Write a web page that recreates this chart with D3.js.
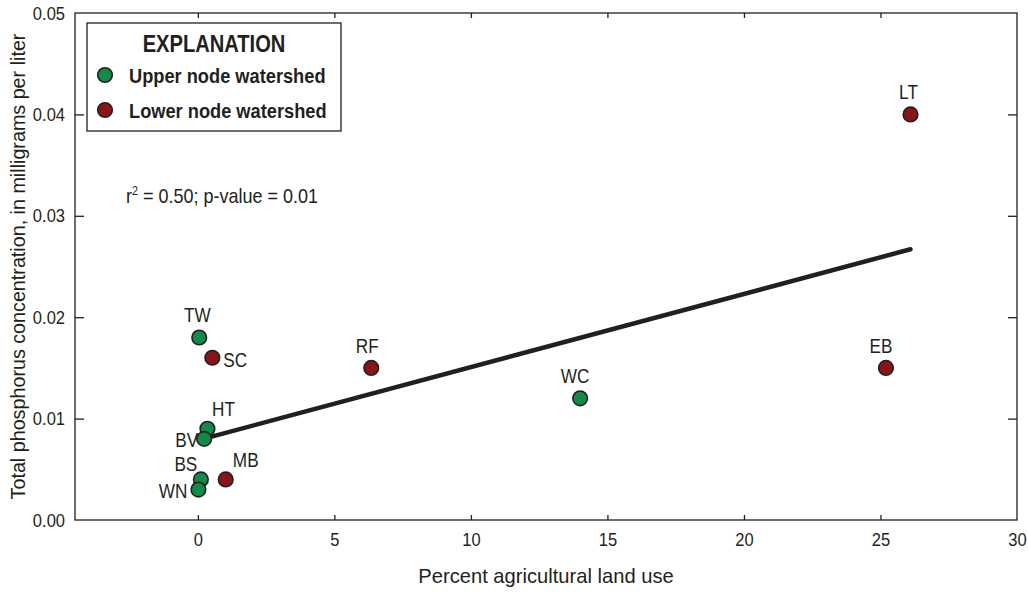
<!DOCTYPE html>
<html>
<head>
<meta charset="utf-8">
<script src="https://cdn.jsdelivr.net/npm/d3@7"></script>
<style>
  html, body { margin: 0; padding: 0; background: #fff; }
  svg { display: block; }
  text { font-family: "Liberation Sans", Arial, sans-serif; }
</style>
</head>
<body>
<svg id="chart" width="1028" height="592"></svg>
<script>
// Watershed sites: percent agricultural land use vs total phosphorus
const siteNames = ["LT", "EB", "WC", "RF", "TW", "SC", "HT", "BV", "BS", "WN", "MB"];
const agPercent = [26.1, 25.2, 14.0, 6.35, 0.05, 0.53, 0.35, 0.23, 0.11, 0.02, 1.02];
const phosphorus = [0.040, 0.015, 0.012, 0.015, 0.018, 0.016, 0.009, 0.008, 0.004, 0.003, 0.004];
const nodeType = ["lower", "lower", "upper", "lower", "upper", "lower", "upper", "upper", "upper", "upper", "lower"];

// Fitted trend line endpoints
const trendX = [0.2, 26.1];
const trendY = [0.0080, 0.0267];

const xTicks = [0, 5, 10, 15, 20, 25, 30];
const yTicks = [0, 0.01, 0.02, 0.03, 0.04, 0.05];
const legendLabels = ["Upper node watershed", "Lower node watershed"];
const legendKeys = ["upper", "lower"];

// Label placement around each marker: [dx, dy, anchor]
const labelPlace = {
  LT: [-2, -15, "middle"], EB: [-5, -15, "middle"], WC: [-5, -15, "middle"],
  RF: [-4, -15, "middle"], TW: [-2, -15, "middle"], SC: [11, 9, "start"],
  HT: [16, -13, "middle"], BV: [-6, 8, "end"], BS: [-15, -8, "middle"],
  WN: [-11, 8, "end"], MB: [20, -12, "middle"]
};

const colors = { upper: "#13894a", lower: "#8a1519" };
const ink = "#231f20";

// Squeeze text horizontally around its own anchor point
function condense(sel, sx) {
  sel.each(function () {
    const t = d3.select(this);
    const xv = +(t.attr("x") || 0);
    t.attr("x", xv / sx).attr("transform", `scale(${sx},1)`);
  });
}
function placeText(parent, px, py, sx) {
  return parent.append("text").attr("transform", `translate(${px},${py}) scale(${sx},1)`);
}

const svg = d3.select("#chart");
const margin = { left: 75, right: 11, top: 13, bottom: 72 };
const W = 1028, H = 592;

const x = d3.scaleLinear().domain([-4.5, 30]).range([margin.left, W - margin.right]);
const y = d3.scaleLinear().domain([0, 0.05]).range([H - margin.bottom, margin.top]);

// Frame
svg.append("rect")
  .attr("x", x.range()[0]).attr("y", y.range()[1])
  .attr("width", x.range()[1] - x.range()[0])
  .attr("height", y.range()[0] - y.range()[1])
  .attr("fill", "none").attr("stroke", ink).attr("stroke-width", 1.3);

// Bottom axis with labels, ticks pointing inward
const xAxis = svg.append("g")
  .attr("transform", `translate(0,${y(0)})`)
  .call(d3.axisBottom(x).tickValues(xTicks).tickSize(-5).tickPadding(13).tickFormat(d3.format("d")));
xAxis.select(".domain").remove();
xAxis.selectAll("line").attr("stroke", ink).attr("stroke-width", 1.3);
xAxis.selectAll("text").attr("font-family", null).attr("font-size", 19).attr("fill", ink);
condense(xAxis.selectAll("text"), 0.87);
xAxis.selectAll(".tick").filter(d => d === 30).select("line").remove();

// Top axis ticks
const xTop = svg.append("g")
  .attr("transform", `translate(0,${y(0.05)})`)
  .call(d3.axisTop(x).tickValues(xTicks.filter(d => d < 30)).tickSize(-5).tickFormat(""));
xTop.select(".domain").remove();
xTop.selectAll("line").attr("stroke", ink).attr("stroke-width", 1.3);

// Left axis
const yAxis = svg.append("g")
  .attr("transform", `translate(${x(-4.5)},0)`)
  .call(d3.axisLeft(y).tickValues(yTicks).tickSize(-9).tickPadding(10).tickFormat(d3.format(".2f")));
yAxis.select(".domain").remove();
yAxis.selectAll("line").attr("stroke", ink).attr("stroke-width", 1.3);
yAxis.selectAll(".tick").filter(d => d === 0 || d === 0.05).select("line").remove();
yAxis.selectAll("text").attr("font-family", null).attr("font-size", 19).attr("fill", ink);
condense(yAxis.selectAll("text"), 0.87);

// Right axis ticks
const yRight = svg.append("g")
  .attr("transform", `translate(${x(30)},0)`)
  .call(d3.axisRight(y).tickValues(yTicks.filter(d => d > 0 && d < 0.05)).tickSize(-9).tickFormat(""));
yRight.select(".domain").remove();
yRight.selectAll("line").attr("stroke", ink).attr("stroke-width", 1.3);

// Axis titles
placeText(svg, (x.range()[0] + x.range()[1]) / 2, 583, 0.96)
  .attr("text-anchor", "middle").attr("font-size", 21).attr("fill", ink)
  .text("Percent agricultural land use");

svg.append("text")
  .attr("transform", `translate(25,${(y.range()[0] + y.range()[1]) / 2}) rotate(-90) scale(0.94,1)`)
  .attr("text-anchor", "middle").attr("font-size", 21).attr("fill", ink)
  .text("Total phosphorus concentration, in milligrams per liter");

// Trend line
svg.append("line")
  .attr("x1", x(trendX[0])).attr("y1", y(trendY[0]))
  .attr("x2", x(trendX[1])).attr("y2", y(trendY[1]))
  .attr("stroke", ink).attr("stroke-width", 4.5).attr("stroke-linecap", "round");

// Statistics note
const stat = placeText(svg, 126, 203, 0.9).attr("font-size", 20).attr("fill", ink);
stat.append("tspan").text("r");
stat.append("tspan").attr("font-size", 12).attr("dy", -8).text("2");
stat.append("tspan").attr("dy", 8).text(" = 0.50; p-value = 0.01");

// Markers
const sites = siteNames.map((n, i) => ({ name: n, x: agPercent[i], y: phosphorus[i], type: nodeType[i] }));

svg.append("g").selectAll("circle")
  .data(sites)
  .join("circle")
  .attr("cx", d => x(d.x)).attr("cy", d => y(d.y))
  .attr("r", 7.3)
  .attr("fill", d => colors[d.type])
  .attr("stroke", ink).attr("stroke-width", 1.6);

svg.append("g").selectAll("text")
  .data(sites)
  .join("text")
  .attr("transform", d => `translate(${x(d.x) + labelPlace[d.name][0]},${y(d.y) + labelPlace[d.name][1]}) scale(0.86,1)`)
  .attr("text-anchor", d => labelPlace[d.name][2])
  .attr("font-size", 20).attr("fill", ink)
  .text(d => d.name);

// Legend
const lg = svg.append("g");
lg.append("rect").attr("x", 87).attr("y", 23).attr("width", 254).attr("height", 108)
  .attr("fill", "#fff").attr("stroke", ink).attr("stroke-width", 1.3);
placeText(lg, 214, 52, 0.875)
  .attr("text-anchor", "middle")
  .attr("font-size", 23).attr("font-weight", "bold").attr("fill", ink)
  .text("EXPLANATION");
legendKeys.forEach((k, i) => {
  const cy = 75 + i * 35;
  lg.append("circle").attr("cx", 105).attr("cy", cy).attr("r", 7.3)
    .attr("fill", colors[k]).attr("stroke", ink).attr("stroke-width", 1.6);
  placeText(lg, 129, cy + 8, 0.89)
    .attr("font-size", 20.5).attr("font-weight", "bold").attr("fill", ink)
    .text(legendLabels[i]);
});
</script>
</body>
</html>
